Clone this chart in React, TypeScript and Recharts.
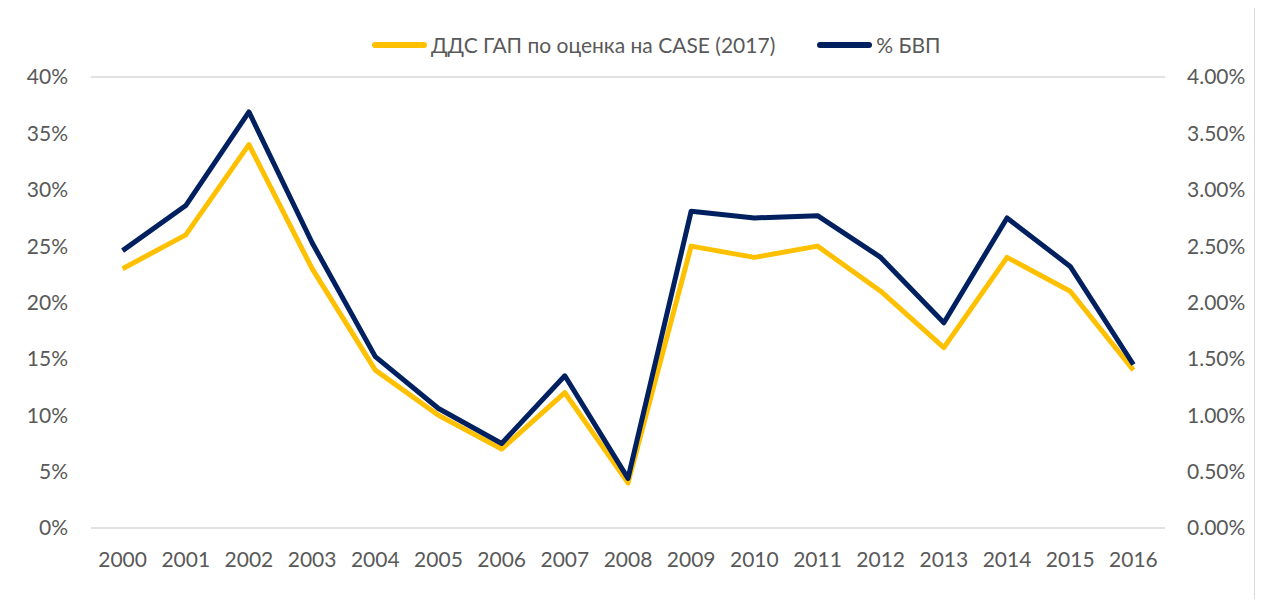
import { LineChart, Line, XAxis, YAxis, CartesianGrid } from 'recharts';

const years = ['2000', '2001', '2002', '2003', '2004', '2005', '2006', '2007', '2008', '2009', '2010', '2011', '2012', '2013', '2014', '2015', '2016'];
const vatGap = [23, 26, 34, 23, 14, 10, 7, 12, 4, 25, 24, 25, 21, 16, 24, 21, 14];
const gdpShare = [2.46, 2.86, 3.69, 2.53, 1.52, 1.06, 0.75, 1.35, 0.44, 2.81, 2.75, 2.77, 2.4, 1.82, 2.75, 2.32, 1.45];
const seriesNames = ['ДДС ГАП по оценка на CASE (2017)', '% БВП'];
const leftTicks = [0, 5, 10, 15, 20, 25, 30, 35, 40];
const rightTicks = [0, 0.5, 1, 1.5, 2, 2.5, 3, 3.5, 4];

const data = years.map((year, i) => ({ year, gap: vatGap[i], gdp: gdpShare[i] }));

const YELLOW = '#FFC000';
const NAVY = '#002060';
const TEXT = '#595959';
const FONT = "Lato, 'Open Sans', sans-serif";
const FS = 21;

export default function App() {
  return (
    <div style={{ position: 'relative', margin: -8, width: 1263, height: 607, overflow: 'hidden', background: '#fff', fontFamily: FONT }}>
      <div style={{ position: 'absolute', left: 7, top: 7, width: 1246, height: 640, border: '1.5px solid #d9d9d9' }} />
      <div style={{ position: 'absolute', left: 372, top: 32, display: 'flex', alignItems: 'center', fontSize: FS, color: TEXT, whiteSpace: 'nowrap' }}>
        <div style={{ width: 55, height: 6, borderRadius: 3, background: YELLOW, marginRight: 4 }} />
        <span style={{ marginRight: 42 }}>{seriesNames[0]}</span>
        <div style={{ width: 55, height: 6, borderRadius: 3, background: NAVY, marginRight: 4 }} />
        <span>{seriesNames[1]}</span>
      </div>
      <LineChart width={1263} height={607} data={data} margin={{ top: 77, right: 38, bottom: 29, left: 31 }} style={{ position: 'absolute', left: 0, top: 0 }}>
        <CartesianGrid horizontal vertical={false} stroke="#d9d9d9" strokeWidth={1.5} />
        <XAxis
          dataKey="year"
          padding={{ left: 31.6, right: 31.6 }}
          axisLine={false}
          tickLine={false}
          tickSize={0}
          tickMargin={24}
          height={50}
          interval={0}
          tick={{ fill: TEXT, fontSize: FS, fontFamily: FONT }}
        />
        <YAxis
          yAxisId="left"
          domain={[0, 40]}
          ticks={leftTicks}
          tickFormatter={(v: number) => `${v}%`}
          axisLine={false}
          tickLine={false}
          tickSize={0}
          tickMargin={23}
          width={60}
          tick={{ fill: TEXT, fontSize: FS, fontFamily: FONT }}
        />
        <YAxis
          yAxisId="right"
          orientation="right"
          domain={[0, 4]}
          ticks={rightTicks}
          tickFormatter={(v: number) => `${v.toFixed(2)}%`}
          axisLine={false}
          tickLine={false}
          tickSize={0}
          tickMargin={22}
          width={60}
          tick={{ fill: TEXT, fontSize: FS, fontFamily: FONT, textAnchor: 'start' }}
        />
        <Line yAxisId="left" type="linear" dataKey="gap" name={seriesNames[0]} stroke={YELLOW} strokeWidth={5} dot={false} strokeLinejoin="round" isAnimationActive={false} />
        <Line yAxisId="right" type="linear" dataKey="gdp" name={seriesNames[1]} stroke={NAVY} strokeWidth={5} dot={false} strokeLinejoin="round" isAnimationActive={false} />
      </LineChart>
    </div>
  );
}
